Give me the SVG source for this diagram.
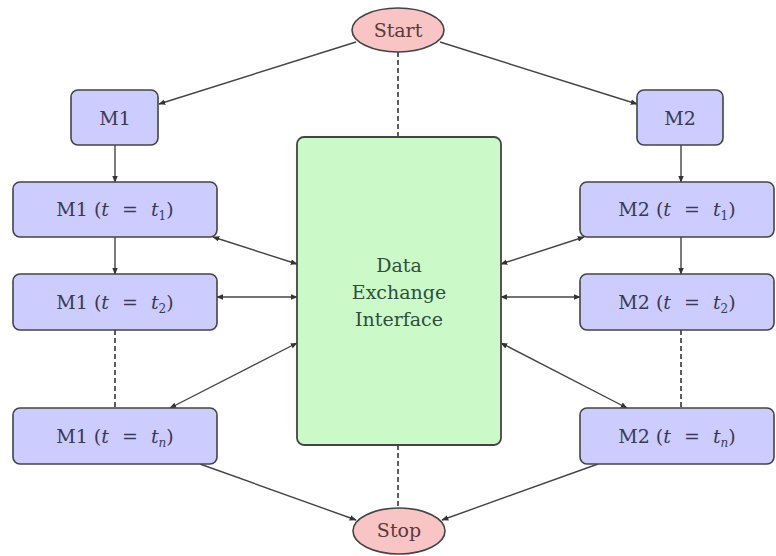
<svg xmlns="http://www.w3.org/2000/svg" width="776" height="556" viewBox="0 0 776 556">
  <defs>
    <marker id="arr" viewBox="0 0 10 10" refX="9" refY="5" markerWidth="5" markerHeight="5" orient="auto-start-reverse">
      <path d="M0,1 L10,5 L0,9 z" fill="#333"/>
    </marker>
    <style>
      .blk { fill: #ccccff; stroke: #444; stroke-width: 1.6; }
      .term { fill: #f9c4c4; stroke: #444; stroke-width: 1.6; }
      .dei { fill: #ccf9c8; stroke: #444; stroke-width: 1.8; }
      text { font-family: 'DejaVu Serif', 'Liberation Serif', serif; text-anchor: middle; }
      .lbl { font-size: 19px; fill: #3a3a55; }
      .dlbl { font-size: 19px; fill: #2f4f3a; }
      .tlbl { font-size: 19px; fill: #5a3a3a; }
      .it { font-style: italic; }
      .sub { font-size: 12px; }
      .edge { fill: none; stroke: #444; stroke-width: 1.4; }
      .dash { fill: none; stroke: #333; stroke-width: 1.6; stroke-dasharray: 5 3; }
    </style>
  </defs>
  <rect width="776" height="556" fill="#ffffff"/>

  <!-- connectors -->
  <g id="connectors">
    <line class="edge" x1="356" y1="42" x2="159" y2="104" marker-end="url(#arr)"/>
    <line class="edge" x1="440" y1="42" x2="637" y2="104" marker-end="url(#arr)"/>
    <line class="dash" x1="398" y1="52" x2="398" y2="137"/>
    <line class="dash" x1="398" y1="445" x2="398" y2="508"/>

    <line class="edge" x1="115" y1="145" x2="115" y2="182" marker-end="url(#arr)"/>
    <line class="edge" x1="115" y1="237" x2="115" y2="274" marker-end="url(#arr)"/>
    <line class="dash" x1="115" y1="330" x2="115" y2="408"/>
    <line class="edge" x1="681" y1="145" x2="681" y2="182" marker-end="url(#arr)"/>
    <line class="edge" x1="681" y1="237" x2="681" y2="274" marker-end="url(#arr)"/>
    <line class="dash" x1="681" y1="330" x2="681" y2="408"/>

    <line class="edge" x1="213" y1="237" x2="297" y2="264" marker-start="url(#arr)" marker-end="url(#arr)"/>
    <line class="edge" x1="217" y1="297" x2="297" y2="297" marker-start="url(#arr)" marker-end="url(#arr)"/>
    <line class="edge" x1="170" y1="408" x2="297" y2="343" marker-start="url(#arr)" marker-end="url(#arr)"/>
    <line class="edge" x1="584" y1="237" x2="501" y2="264" marker-start="url(#arr)" marker-end="url(#arr)"/>
    <line class="edge" x1="580" y1="297" x2="501" y2="297" marker-start="url(#arr)" marker-end="url(#arr)"/>
    <line class="edge" x1="627" y1="408" x2="501" y2="343" marker-start="url(#arr)" marker-end="url(#arr)"/>

    <line class="edge" x1="200" y1="464" x2="356" y2="520" marker-end="url(#arr)"/>
    <line class="edge" x1="598" y1="464" x2="442" y2="520" marker-end="url(#arr)"/>
  </g>

  <!-- terminals -->
  <g id="start">
    <ellipse class="term" cx="398" cy="30" rx="46" ry="22"/>
    <text class="tlbl" x="398" y="37">Start</text>
  </g>
  <g id="stop">
    <ellipse class="term" cx="399" cy="531" rx="46" ry="23"/>
    <text class="tlbl" x="399" y="537">Stop</text>
  </g>

  <!-- data exchange interface -->
  <g id="dei">
    <rect class="dei" x="297" y="137" width="204" height="308" rx="7"/>
    <text class="dlbl" x="399" y="272">Data</text>
    <text class="dlbl" x="399" y="299">Exchange</text>
    <text class="dlbl" x="399" y="326">Interface</text>
  </g>

  <!-- model 1 -->
  <g id="m1">
    <rect class="blk" x="71" y="90" width="87" height="55" rx="7"/>
    <text class="lbl" x="115" y="125">M1</text>
  </g>
  <g id="m1-t1">
    <rect class="blk" x="13" y="182" width="204" height="55" rx="7"/>
    <text class="lbl" x="115" y="216">M1 (<tspan class="it">t</tspan><tspan dx="7"> = </tspan><tspan class="it" dx="7">t</tspan><tspan class="sub" dy="4">1</tspan><tspan dy="-4">)</tspan></text>
  </g>
  <g id="m1-t2">
    <rect class="blk" x="13" y="274" width="204" height="56" rx="7"/>
    <text class="lbl" x="115" y="309">M1 (<tspan class="it">t</tspan><tspan dx="7"> = </tspan><tspan class="it" dx="7">t</tspan><tspan class="sub" dy="4">2</tspan><tspan dy="-4">)</tspan></text>
  </g>
  <g id="m1-tn">
    <rect class="blk" x="13" y="408" width="204" height="56" rx="7"/>
    <text class="lbl" x="115" y="443">M1 (<tspan class="it">t</tspan><tspan dx="7"> = </tspan><tspan class="it" dx="7">t</tspan><tspan class="sub it" dy="4">n</tspan><tspan dy="-4">)</tspan></text>
  </g>

  <!-- model 2 -->
  <g id="m2">
    <rect class="blk" x="637" y="90" width="86" height="55" rx="7"/>
    <text class="lbl" x="680" y="125">M2</text>
  </g>
  <g id="m2-t1">
    <rect class="blk" x="580" y="182" width="194" height="55" rx="7"/>
    <text class="lbl" x="677" y="216">M2 (<tspan class="it">t</tspan><tspan dx="7"> = </tspan><tspan class="it" dx="7">t</tspan><tspan class="sub" dy="4">1</tspan><tspan dy="-4">)</tspan></text>
  </g>
  <g id="m2-t2">
    <rect class="blk" x="580" y="274" width="194" height="56" rx="7"/>
    <text class="lbl" x="677" y="309">M2 (<tspan class="it">t</tspan><tspan dx="7"> = </tspan><tspan class="it" dx="7">t</tspan><tspan class="sub" dy="4">2</tspan><tspan dy="-4">)</tspan></text>
  </g>
  <g id="m2-tn">
    <rect class="blk" x="580" y="408" width="194" height="56" rx="7"/>
    <text class="lbl" x="677" y="443">M2 (<tspan class="it">t</tspan><tspan dx="7"> = </tspan><tspan class="it" dx="7">t</tspan><tspan class="sub it" dy="4">n</tspan><tspan dy="-4">)</tspan></text>
  </g>
</svg>
